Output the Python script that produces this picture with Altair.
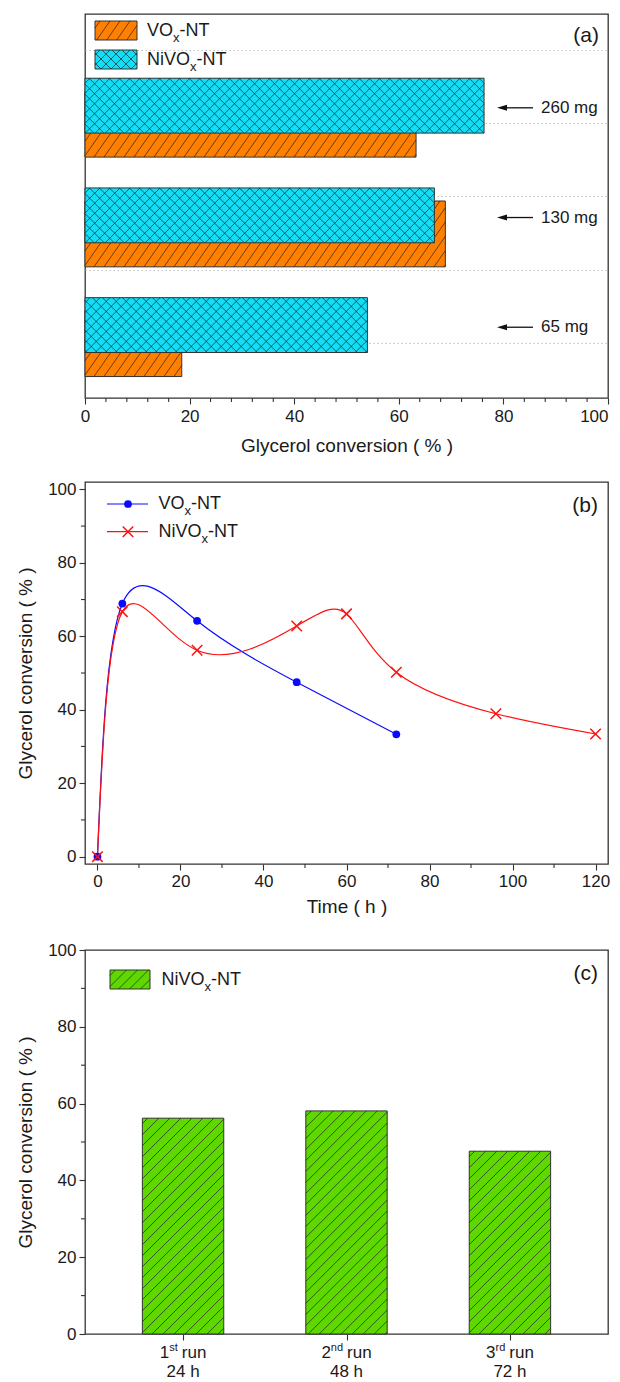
import altair as alt
import pandas as pd

FONT = "Liberation Sans"

# ---------------- data ----------------
# panel (a)
masses = ["65 mg", "130 mg", "260 mg"]
mass_rank = [1, 2, 3]
vox_conv = [18.5, 68.9, 63.3]
nivox_conv = [54.0, 66.8, 76.3]
a_major = [0, 20, 40, 60, 80, 100]
a_minor = [4, 8, 12, 16, 24, 28, 32, 36, 44, 48, 52, 56, 64, 68, 72, 76, 84, 88, 92, 96]

# panel (b)
t_vox = [0, 6, 24, 48, 72]
c_vox = [0, 68.9, 64.2, 47.5, 33.3]
t_nivox = [0, 6, 24, 48, 60, 72, 96, 120]
c_nivox = [0, 66.7, 56.2, 62.8, 66.1, 50.2, 38.9, 33.4]
b_xmajor = [0, 20, 40, 60, 80, 100, 120]
b_xminor = [10, 30, 50, 70, 90, 110]
y_major = [0, 20, 40, 60, 80, 100]
y_minor = [10, 30, 50, 70, 90]

# panel (c)
run_num = ["1", "2", "3"]
run_sup = ["st", "nd", "rd"]
run_time = ["24 h", "48 h", "72 h"]
run_rank = [1, 2, 3]
run_conv = [56.2, 58.1, 47.6]

series_names = ["VOx-NT", "NiVOx-NT"]

# ---------------- style ----------------
ORANGE = "#FF8000"
CYAN = "#14DDF6"
GREEN = "#5FD800"
BLUE = "#0A0AFF"
RED = "#FF1010"
EDGE = "#333333"
HATCH = "#1e1e1e"
TXT = "#1a1a1a"

W = 523
HA, HB, HC = 384, 382, 384

xa = alt.Scale(domain=[0, 100], nice=False, zero=False)
ya = alt.Scale(domain=[0.42, 3.92], nice=False, zero=False)
SXA, SYA = W / 100.0, HA / 3.5

xb = alt.Scale(domain=[-3, 123], nice=False, zero=False)
yb = alt.Scale(domain=[-2, 102], nice=False, zero=False)

xc = alt.Scale(domain=[0.4, 3.6], nice=False, zero=False)
yc = alt.Scale(domain=[0, 100], nice=False, zero=False)
SXC, SYC = W / 3.2, HC / 100.0

CW = {"V": .667, "O": .778, "N": .722, "i": .222, "T": .611, "-": .333, "x": .5}


def tw(s, fs):
    return sum(CW.get(c, .556) for c in s) * fs


def one(label):
    return pd.DataFrame({"name": [label]})


def last_right(v):
    return {"condition": {"test": f"datum.value === {v}", "value": "right"}, "value": "center"}


def hatch(base, x0, x1, y0, y1, sx, sy, d, m, mirror, xs, ys, color=HATCH, width=0.75):
    ch = base.transform_calculate(_x0=x0, _x1=x1, _y0=y0, _y1=y1)
    ch = ch.transform_calculate(
        _W=f"(datum._x1 - datum._x0) * ({sx})",
        _H=f"(datum._y1 - datum._y0) * ({sy})",
    )
    ch = ch.transform_calculate(_k=f"sequence(-datum._H / {m} + {d} / 2, datum._W, {d})")
    ch = ch.transform_flatten(["_k"])
    ch = ch.transform_calculate(
        _vs=f"max(0, -datum._k * {m})",
        _ve=f"min(datum._H, (datum._W - datum._k) * {m})",
    )
    ch = ch.transform_filter("datum._ve - datum._vs > 0.5")
    if mirror:
        ua = f"datum._W - (datum._k + datum._vs / {m})"
        ub = f"datum._W - (datum._k + datum._ve / {m})"
    else:
        ua = f"datum._k + datum._vs / {m}"
        ub = f"datum._k + datum._ve / {m}"
    ch = ch.transform_calculate(_ua=ua, _ub=ub)
    ch = ch.transform_calculate(
        _hx=f"datum._x0 + datum._ua / ({sx})",
        _hx2=f"datum._x0 + datum._ub / ({sx})",
        _hy=f"datum._y0 + datum._vs / ({sy})",
        _hy2=f"datum._y0 + datum._ve / ({sy})",
    )
    X = alt.X("_hx:Q", scale=xs) if xs is not None else alt.X("_hx:Q", scale=None, axis=None)
    Y = alt.Y("_hy:Q", scale=ys) if ys is not None else alt.Y("_hy:Q", scale=None, axis=None)
    return ch.mark_rule(color=color, strokeWidth=width, opacity=0.9).encode(
        x=X, x2="_hx2:Q", y=Y, y2="_hy2:Q"
    )


def txt(x, y, s, fs=18, align="left", data=None):
    return alt.Chart(one(s) if data is None else data).mark_text(
        text=s, font=FONT, fontSize=fs, align=align, baseline="middle", color=TXT
    ).encode(x=alt.value(x), y=alt.value(y))


def sub_label(x, y, head, tail, fs=18, sfs=13):
    w1 = tw(head, fs)
    w2 = tw("x", sfs)
    return [
        txt(x, y, head, fs),
        txt(x + w1, y + 7, "x", sfs),
        txt(x + w1 + w2, y, tail, fs),
    ]


def swatch(x0, x1, y0, y1, fill, patterns, name):
    """Legend swatch in pixel space: patterns = list of (d, m, mirror)."""
    rect = alt.Chart(one(name)).mark_rect(fill=fill, stroke=EDGE, strokeWidth=1).encode(
        x=alt.value(x0), x2=alt.value(x1), y=alt.value(y0), y2=alt.value(y1)
    )
    out = [rect]
    for d, m, mir in patterns:
        out.append(hatch(alt.Chart(one(name)), str(x0), str(x1), str(y1), str(y0), 1, -1, d, m, mir, None, None))
    return out


def minor_x(vals, scale, h, L=4):
    return alt.Chart(pd.DataFrame({"v": vals})).mark_rule(color=EDGE, strokeWidth=1.1).encode(
        x=alt.X("v:Q", scale=scale), y=alt.value(h), y2=alt.value(h + L)
    )


def minor_y(vals, scale, L=4):
    return alt.Chart(pd.DataFrame({"v": vals})).mark_rule(color=EDGE, strokeWidth=1.1).encode(
        y=alt.Y("v:Q", scale=scale), x=alt.value(0), x2=alt.value(-L)
    )


YTITLE = "Glycerol conversion ( % )"

# ---------------- panel (a) ----------------
df_vox = pd.DataFrame({"mass": masses, "rank": mass_rank, "conv": vox_conv})
df_ni = pd.DataFrame({"mass": masses, "rank": mass_rank, "conv": nivox_conv})

vox_base = alt.Chart(df_vox).transform_calculate(
    x0="0", y0="datum.rank - 0.3845", y1="datum.rank + 0.2155"
)
ni_base = alt.Chart(df_ni).transform_calculate(
    x0="0", y0="datum.rank - 0.1655", y1="datum.rank + 0.3345"
)

vox_rect = vox_base.mark_rect(fill=ORANGE, stroke=EDGE, strokeWidth=1).encode(
    x=alt.X("x0:Q", scale=xa, axis=alt.Axis(
        values=a_major, title="Glycerol conversion ( % )", tickSize=6, labelPadding=4,
        titlePadding=12, labelFlush=False, format="d", labelAlign=last_right(100))),
    x2="conv:Q",
    y=alt.Y("y0:Q", scale=ya, axis=alt.Axis(
        values=[0.923, 1.59, 2.257, 2.923, 3.59], labels=False, ticks=False, grid=True,
        gridDash=[1.5, 2.5], gridColor="#c4c4c4", gridWidth=1, title=None)),
    y2="y1:Q",
)
vox_h = hatch(vox_base, "datum.x0", "datum.conv", "datum.y0", "datum.y1", SXA, SYA, 10, 1.43, False, xa, ya)
ni_rect = ni_base.mark_rect(fill=CYAN, stroke=EDGE, strokeWidth=1).encode(
    x=alt.X("x0:Q", scale=xa), x2="conv:Q",
    y=alt.Y("y0:Q", scale=ya), y2="y1:Q",
)
ni_h1 = hatch(ni_base, "datum.x0", "datum.conv", "datum.y0", "datum.y1", SXA, SYA, 10, 1, False, xa, ya)
ni_h2 = hatch(ni_base, "datum.x0", "datum.conv", "datum.y0", "datum.y1", SXA, SYA, 10, 1, True, xa, ya)

ann_base = alt.Chart(pd.DataFrame({"rank": mass_rank, "label": masses})).transform_calculate(
    ay="datum.rank + 0.065"
)
shaft = ann_base.mark_rule(color="#111", strokeWidth=1.3).encode(
    x=alt.value(417), x2=alt.value(448), y=alt.Y("ay:Q", scale=ya)
)
head = ann_base.mark_point(shape="M-1,0L1,-0.6L1,0.6Z", filled=True, color="#111", size=100, opacity=1).encode(
    x=alt.value(417), y=alt.Y("ay:Q", scale=ya)
)
ann_txt = ann_base.mark_text(font=FONT, fontSize=17, align="left", baseline="middle", color=TXT).encode(
    x=alt.value(456), y=alt.Y("ay:Q", scale=ya), text="label:N"
)

leg_a = []
leg_a += swatch(10, 52, 7, 26, ORANGE, [(10, 1.43, False)], series_names[0])
leg_a += swatch(10, 52, 36, 55, CYAN, [(10, 1, False), (10, 1, True)], series_names[1])
leg_a += sub_label(62, 16.5, "VO", "-NT")
leg_a += sub_label(62, 45.5, "NiVO", "-NT")
lab_a = txt(514, 22, "(a)", 21, align="right")

panel_a = alt.layer(
    vox_rect, minor_x(a_minor, xa, HA), vox_h, ni_rect, ni_h1, ni_h2,
    shaft, head, ann_txt, *leg_a, lab_a
).properties(width=W, height=HA)

# ---------------- panel (b) ----------------
df_bv = pd.DataFrame({"t": t_vox, "c": c_vox})
df_bn = pd.DataFrame({"t": t_nivox, "c": c_nivox})

line_v = alt.Chart(df_bv).mark_line(color=BLUE, strokeWidth=1.2, interpolate="natural").encode(
    x=alt.X("t:Q", scale=xb, axis=alt.Axis(values=b_xmajor, title="Time ( h )", tickSize=6,
                                           labelPadding=3, titlePadding=8, labelFlush=False)),
    y=alt.Y("c:Q", scale=yb, axis=alt.Axis(values=y_major, title=YTITLE, tickSize=6,
                                           labelPadding=3, titlePadding=12)),
)
pts_v = alt.Chart(df_bv).mark_point(shape="circle", filled=True, size=60, color=BLUE, opacity=1).encode(
    x=alt.X("t:Q", scale=xb), y=alt.Y("c:Q", scale=yb)
)
line_n = alt.Chart(df_bn).mark_line(color=RED, strokeWidth=1.2, interpolate="natural").encode(
    x=alt.X("t:Q", scale=xb), y=alt.Y("c:Q", scale=yb)
)
XSHAPE = "M-1,-1L1,1M-1,1L1,-1"
pts_n = alt.Chart(df_bn).mark_point(shape=XSHAPE, filled=False, size=110, color=RED,
                                    strokeWidth=1.5, opacity=1).encode(
    x=alt.X("t:Q", scale=xb), y=alt.Y("c:Q", scale=yb)
)

leg_b = [
    alt.Chart(one(series_names[0])).mark_rule(color=BLUE, strokeWidth=1.2).encode(
        x=alt.value(22), x2=alt.value(63), y=alt.value(22)),
    alt.Chart(one(series_names[0])).mark_point(shape="circle", filled=True, size=60, color=BLUE, opacity=1).encode(
        x=alt.value(43), y=alt.value(22)),
    alt.Chart(one(series_names[1])).mark_rule(color=RED, strokeWidth=1.2).encode(
        x=alt.value(22), x2=alt.value(63), y=alt.value(49.7)),
    alt.Chart(one(series_names[1])).mark_point(shape=XSHAPE, filled=False, size=110, color=RED,
                                               strokeWidth=1.5, opacity=1).encode(
        x=alt.value(43), y=alt.value(49.7)),
]
leg_b += sub_label(73.5, 22, "VO", "-NT")
leg_b += sub_label(73.5, 49.7, "NiVO", "-NT")
lab_b = txt(513, 24, "(b)", 21, align="right")

panel_b = alt.layer(
    line_v, minor_x(b_xminor, xb, HB), minor_y(y_minor, yb), line_n, pts_v, pts_n, *leg_b, lab_b
).properties(width=W, height=HB)

# ---------------- panel (c) ----------------
df_c = pd.DataFrame({"num": run_num, "sup": run_sup, "time": run_time, "rank": run_rank, "conv": run_conv})
c_base = alt.Chart(df_c).transform_calculate(
    x0="datum.rank - 0.249", x1="datum.rank + 0.249", y0="0"
)
c_rect = c_base.mark_rect(fill=GREEN, stroke=EDGE, strokeWidth=1).encode(
    x=alt.X("x0:Q", scale=xc, axis=alt.Axis(values=run_rank, labels=False, tickSize=6, title=None)),
    x2="x1:Q",
    y=alt.Y("y0:Q", scale=yc, axis=alt.Axis(values=y_major, title=YTITLE, tickSize=6,
                                            labelPadding=3, titlePadding=12)),
    y2="conv:Q",
)
c_h = hatch(c_base, "datum.x0", "datum.x1", "datum.y0", "datum.conv", SXC, SYC, 11, 1, False, xc, yc)

lab_base = alt.Chart(df_c).transform_calculate(
    sw="datum.sup == 'nd' ? 12.2 : (datum.sup == 'rd' ? 9.8 : 8.6)"
).transform_calculate(
    tw="9.45 + datum.sw + 4 + 24.6"
).transform_calculate(
    xs=f"datum.rank - datum.tw / 2 / {SXC}"
).transform_calculate(
    xsup=f"datum.xs + 9.45 / {SXC}",
    xrun=f"datum.xs + (9.45 + datum.sw + 4) / {SXC}",
)
t_num = lab_base.mark_text(font=FONT, fontSize=17, align="left", baseline="middle", color=TXT).encode(
    x=alt.X("xs:Q", scale=xc), y=alt.value(HC + 19), text="num:N")
t_sup = lab_base.mark_text(font=FONT, fontSize=11, align="left", baseline="middle", color=TXT).encode(
    x=alt.X("xsup:Q", scale=xc), y=alt.value(HC + 13.5), text="sup:N")
t_run = lab_base.mark_text(font=FONT, fontSize=17, align="left", baseline="middle", color=TXT, text="run").encode(
    x=alt.X("xrun:Q", scale=xc), y=alt.value(HC + 19))
t_time = alt.Chart(df_c).mark_text(font=FONT, fontSize=17, align="center", baseline="middle", color=TXT).encode(
    x=alt.X("rank:Q", scale=xc), y=alt.value(HC + 38), text="time:N")

leg_c = swatch(25, 65, 20, 39, GREEN, [(11, 1, False)], series_names[1])
leg_c += sub_label(76.5, 30, "NiVO", "-NT")
lab_c = txt(513, 24, "(c)", 21, align="right")

panel_c = alt.layer(
    c_rect, minor_y(y_minor, yc), c_h, t_num, t_sup, t_run, t_time, *leg_c, lab_c
).properties(width=W, height=HC)

chart = alt.vconcat(panel_a, panel_b, panel_c, spacing=23).properties(
    padding={"left": 7, "top": 5, "right": 0, "bottom": 0},
    background="white",
).configure_view(
    stroke=EDGE, strokeWidth=1.3
).configure_axis(
    labelFont=FONT, titleFont=FONT, labelFontSize=17, titleFontSize=19, titleFontWeight="normal",
    labelColor=TXT, titleColor=TXT, tickColor=EDGE, tickWidth=1.1, domain=False, grid=False
)

chart.save("out.html", embed_options={"renderer": "svg", "actions": False})
